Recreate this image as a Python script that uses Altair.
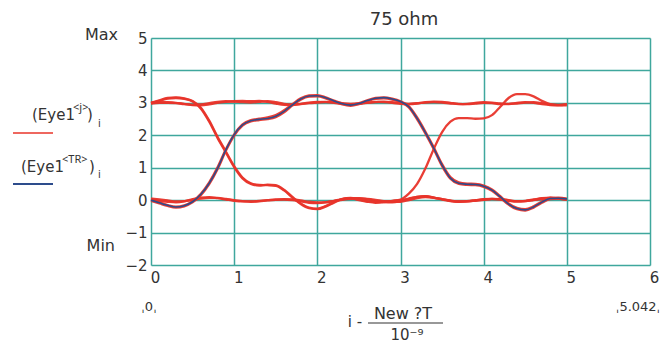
import altair as alt
import pandas as pd

# sample positions (x, in units of 1e-9 s)
t = [0.0, 0.1, 0.2, 0.3, 0.4, 0.5, 0.6, 0.7, 0.8, 0.9,
     1.0, 1.1, 1.2, 1.3, 1.4, 1.5, 1.6, 1.7, 1.8, 1.9,
     2.0, 2.1, 2.2, 2.3, 2.4, 2.5, 2.6, 2.7, 2.8, 2.9,
     3.0, 3.1, 3.2, 3.3, 3.4, 3.5, 3.6, 3.7, 3.8, 3.9,
     4.0, 4.1, 4.2, 4.3, 4.4, 4.5, 4.6, 4.7, 4.8, 4.9, 5.0]

# blue trace (Eye1<TR>): 0 -> 1 -> 0
tr = [0.00, -0.08, -0.16, -0.21, -0.17, -0.05, 0.18, 0.52, 0.98, 1.55,
      2.02, 2.32, 2.45, 2.49, 2.52, 2.59, 2.74, 2.94, 3.12, 3.21,
      3.22, 3.16, 3.06, 2.97, 2.93, 2.98, 3.07, 3.14, 3.16, 3.12,
      3.04, 2.88, 2.52, 2.08, 1.60, 1.08, 0.68, 0.52, 0.49, 0.48,
      0.43, 0.31, 0.10, -0.12, -0.26, -0.30, -0.21, -0.06, 0.05, 0.06, 0.04]

# red traces (Eye1<j>)
rise_fall_a = [0.02, -0.06, -0.15, -0.20, -0.16, -0.03, 0.20, 0.55, 1.01, 1.57,
               2.03, 2.34, 2.47, 2.51, 2.55, 2.62, 2.77, 2.96, 3.14, 3.23,
               3.24, 3.17, 3.07, 2.98, 2.94, 2.99, 3.08, 3.15, 3.17, 3.13,
               3.05, 2.90, 2.55, 2.11, 1.63, 1.11, 0.71, 0.55, 0.51, 0.50,
               0.45, 0.33, 0.12, -0.10, -0.24, -0.28, -0.19, -0.04, 0.07, 0.08, 0.05]
rise_fall_b = [-0.02, -0.10, -0.18, -0.23, -0.19, -0.07, 0.15, 0.49, 0.95, 1.52,
               1.99, 2.30, 2.43, 2.47, 2.50, 2.56, 2.71, 2.92, 3.10, 3.19,
               3.20, 3.14, 3.04, 2.95, 2.91, 2.96, 3.05, 3.12, 3.14, 3.10,
               3.02, 2.86, 2.49, 2.05, 1.57, 1.05, 0.66, 0.50, 0.47, 0.46,
               0.41, 0.29, 0.08, -0.14, -0.28, -0.32, -0.23, -0.08, 0.03, 0.05, 0.03]
fall_rise = [3.00, 3.08, 3.15, 3.17, 3.14, 3.06, 2.85, 2.45, 1.95, 1.50,
             1.05, 0.70, 0.52, 0.47, 0.46, 0.44, 0.30, 0.08, -0.12, -0.25,
             -0.28, -0.20, -0.08, 0.03, 0.06, 0.00, -0.05, -0.08, -0.06, -0.02,
             0.02, 0.20, 0.50, 0.98, 1.58, 2.10, 2.42, 2.53, 2.53, 2.51,
             2.52, 2.62, 2.88, 3.15, 3.27, 3.27, 3.20, 3.06, 2.96, 2.93, 2.92]
fall_low = [2.98, 3.06, 3.13, 3.15, 3.12, 3.04, 2.82, 2.42, 1.92, 1.47,
            1.02, 0.67, 0.50, 0.45, 0.48, 0.46, 0.32, 0.10, -0.10, -0.23,
            -0.26, -0.18, -0.06, 0.04, 0.07, 0.02, -0.03, -0.06, -0.05, -0.03,
            0.00, 0.05, 0.10, 0.12, 0.08, 0.03, -0.02, -0.05, -0.04, -0.01,
            0.02, 0.04, 0.03, -0.01, -0.04, -0.03, 0.01, 0.05, 0.07, 0.05, 0.02]
up_flat_a = [2.98, 3.00, 3.00, 2.99, 2.97, 2.93, 2.92, 2.95, 3.00, 3.03,
             3.05, 3.06, 3.05, 3.06, 3.03, 2.98, 2.94, 2.93, 2.97, 3.01,
             3.03, 3.02, 3.00, 2.97, 2.95, 2.97, 3.01, 3.03, 3.02, 3.00,
             2.97, 2.96, 2.98, 3.02, 3.04, 3.03, 3.00, 2.97, 2.96, 2.98,
             3.00, 2.99, 2.96, 2.97, 3.00, 3.02, 3.00, 2.96, 2.93, 2.92, 2.95]
up_flat_b = [3.01, 3.03, 3.02, 3.00, 2.96, 2.94, 2.95, 2.99, 3.03, 3.05,
             3.04, 3.02, 3.01, 3.03, 3.05, 3.02, 2.97, 2.95, 2.96, 2.99,
             3.01, 3.03, 3.02, 2.99, 2.97, 2.98, 3.00, 3.02, 3.04, 3.02,
             2.99, 2.97, 2.99, 3.01, 3.02, 3.01, 2.98, 2.96, 2.97, 3.00,
             3.02, 3.01, 2.98, 2.96, 2.98, 3.01, 3.02, 2.99, 2.95, 2.94, 2.96]
lo_flat_a = [0.02, -0.02, -0.05, -0.07, -0.04, 0.03, 0.08, 0.09, 0.06, 0.02,
             -0.02, -0.04, -0.04, -0.02, 0.00, 0.02, 0.02, 0.00, -0.04, -0.08,
             -0.09, -0.07, -0.02, 0.03, 0.06, 0.06, 0.03, -0.02, -0.06, -0.07,
             -0.03, 0.04, 0.10, 0.12, 0.08, 0.02, -0.03, -0.05, -0.03, 0.00,
             0.03, 0.04, 0.02, -0.02, -0.04, -0.02, 0.02, 0.06, 0.08, 0.05, 0.02]
lo_flat_b = [0.05, 0.02, -0.01, -0.04, -0.03, 0.01, 0.05, 0.07, 0.07, 0.04,
             0.00, -0.03, -0.05, -0.04, -0.01, 0.01, 0.03, 0.02, -0.01, -0.05,
             -0.07, -0.06, -0.03, 0.01, 0.04, 0.05, 0.04, 0.01, -0.03, -0.05,
             -0.05, 0.00, 0.06, 0.09, 0.07, 0.03, -0.01, -0.04, -0.04, -0.02,
             0.01, 0.03, 0.03, 0.00, -0.03, -0.03, 0.00, 0.04, 0.06, 0.05, 0.03]

red_traces = {
    "up_a": up_flat_a, "up_b": up_flat_b,
    "lo_a": lo_flat_a, "lo_b": lo_flat_b,
    "rf_a": rise_fall_a, "rf_b": rise_fall_b,
    "fr": fall_rise, "fl": fall_low,
}

x_ticks = [0, 1, 2, 3, 4, 5, 6]
y_ticks = [-2, -1, 0, 1, 2, 3, 4, 5]

rows = []
for name, vals in red_traces.items():
    for xi, yi in zip(t, vals):
        rows.append({"trace": name, "x": xi, "y": yi})
red_df = pd.DataFrame(rows)
blue_df = pd.DataFrame({"x": t, "y": tr})

FONT = "DejaVu Sans"
SUPFONT = "Noto Sans"
TXT = "#333333"
RED = "#e8342a"
BLUE = "#2d4c8c"
GRID = "#3fa79d"

W, H = 499, 227

xs = alt.X("x:Q", scale=alt.Scale(domain=[0, 6], nice=False),
           axis=alt.Axis(values=x_ticks, title=None, grid=True, gridColor=GRID,
                         gridWidth=1.5, gridOpacity=1, ticks=False, domain=False,
                         labelFont=FONT, labelFontSize=15, labelColor=TXT,
                         labelPadding=5, labelOffset=4, labelFlush=False,
                         labelOverlap=False, format="d"))
ys = alt.Y("y:Q", scale=alt.Scale(domain=[-2, 5], nice=False),
           axis=alt.Axis(values=y_ticks, title=None, grid=True, gridColor=GRID,
                         gridWidth=1.5, gridOpacity=1, ticks=False, domain=False,
                         labelFont=FONT, labelFontSize=15, labelColor=TXT,
                         labelPadding=4, labelFlush=False, labelOverlap=False,
                         format="d"))

red = alt.Chart(red_df).mark_line(color=RED, strokeWidth=2.3, interpolate="monotone",
                                  opacity=0.95).encode(x=xs, y=ys, detail="trace:N")
blue = alt.Chart(blue_df).mark_line(color=BLUE, strokeWidth=1.6,
                                    interpolate="monotone").encode(x=xs, y=ys)

one = pd.DataFrame({"d": [0]})


def txt(s, x, y, size=15, align="center", color=TXT, font=FONT):
    return alt.Chart(one).mark_text(font=font, fontSize=size, align=align,
                                    baseline="middle", color=color).encode(
        x=alt.value(x), y=alt.value(y), text=alt.value(s))


def seg(x1, x2, y, color, w):
    return alt.Chart(one).mark_rule(color=color, strokeWidth=w).encode(
        x=alt.value(x1), x2=alt.value(x2), y=alt.value(y))


labels = [
    txt("75 ohm", 253, -18, size=18),
    txt("Max", -33, -3, size=16, align="right"),
    txt("Min", -36, 208, size=16, align="right"),
    txt("(Eye1", -119, 77, size=15, align="left"),
    txt("<j>", -78, 70, size=11, align="left", font=SUPFONT),
    txt(")", -64, 77, size=15, align="left"),
    txt("i", -53, 86, size=10, align="left"),
    seg(-138, -98, 95, RED, 1.5),
    txt("(Eye1", -130, 129, size=15, align="left"),
    txt("<TR>", -89, 122, size=11, align="left", font=SUPFONT),
    txt(")", -62, 129, size=15, align="left"),
    txt("i", -53, 137, size=10, align="left"),
    seg(-138, -98, 146, BLUE, 1.8),
    txt("ˌ0ˌ", -2, 269, size=13),
    txt("ˌ5.042ˌ", 487, 269, size=13),
    txt("i -", 204, 284, size=15),
    txt("New ?T", 252, 276, size=16),
    seg(217, 292, 285, TXT, 1.2),
    txt("10⁻⁹", 256, 297, size=15),
]

chart = alt.layer(red, blue, *labels).properties(
    width=W, height=H,
    autosize=alt.AutoSizeParams(type="none"),
    padding={"left": 151, "top": 38, "right": 12, "bottom": 80},
).configure_view(stroke="#557070", strokeWidth=2).configure(background="white")

chart.save("out.html", embed_options={"renderer": "svg", "actions": False})
